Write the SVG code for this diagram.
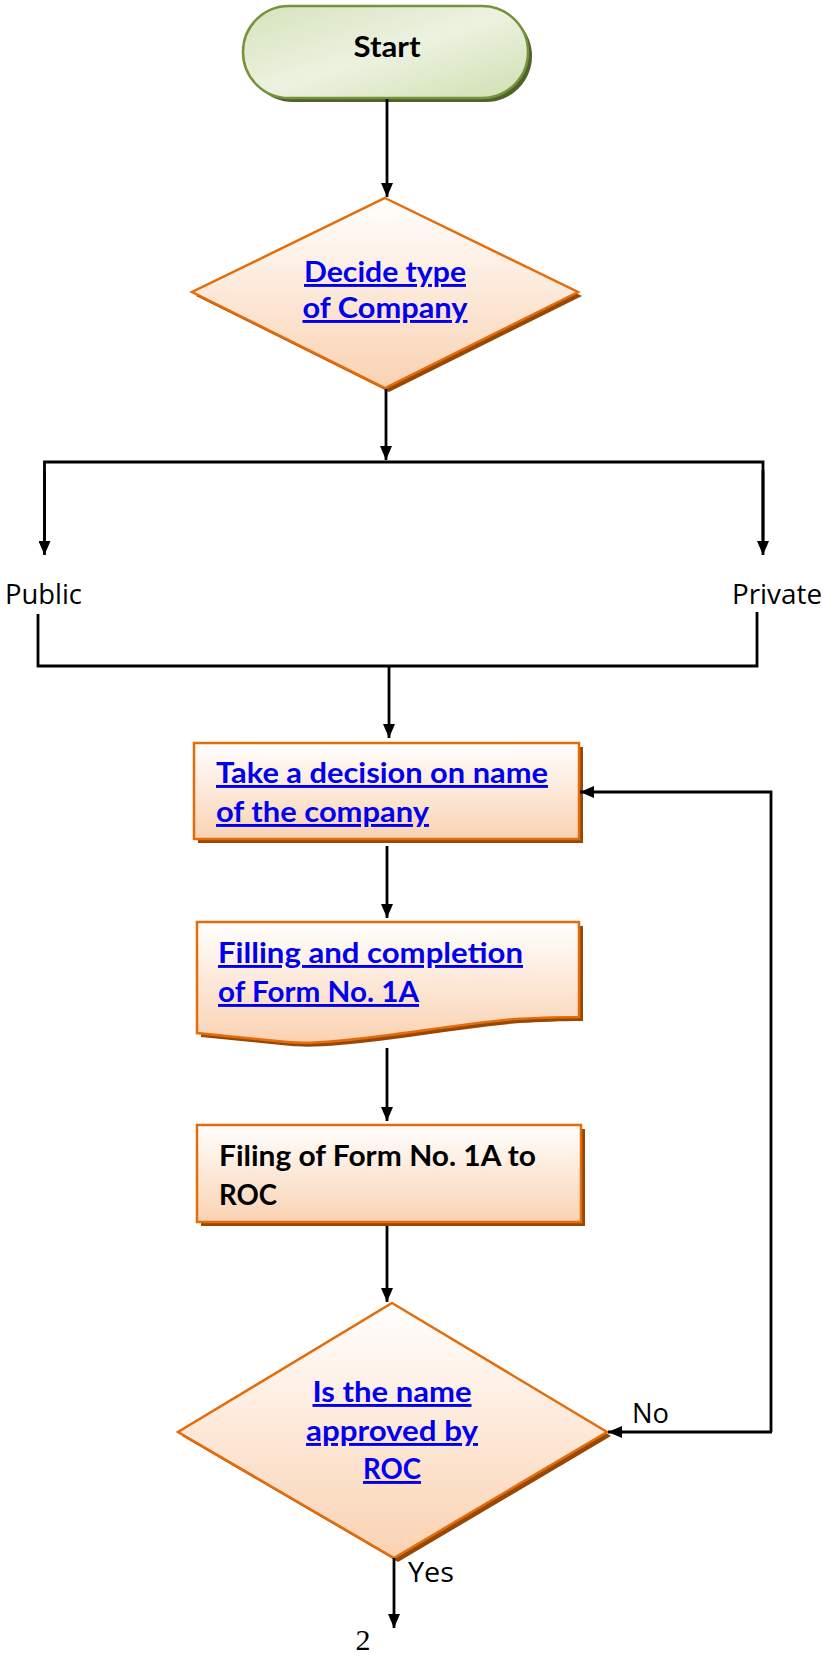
<svg xmlns="http://www.w3.org/2000/svg" width="823" height="1657" viewBox="0 0 823 1657">
<defs>
<linearGradient id="og" x1="0" y1="0" x2="0" y2="1">
<stop offset="0" stop-color="#FFFFFF"/>
<stop offset="1" stop-color="#FAD2B2"/>
</linearGradient>
<linearGradient id="gg" x1="0" y1="0" x2="1" y2="1">
<stop offset="0" stop-color="#D6E3BC"/>
<stop offset="0.5" stop-color="#ECF2E0"/>
<stop offset="1" stop-color="#D0DFB2"/>
</linearGradient>
<marker id="ah" viewBox="0 0 14 12" refX="14" refY="6" markerWidth="14" markerHeight="12" markerUnits="userSpaceOnUse" orient="auto">
<path d="M0,0 L14,6 L0,12 Z" fill="#000"/>
</marker>
<style>
.sh{fill:#974806;stroke:none}
.box{fill:url(#og);stroke:#E46C0A;stroke-width:2.5}
.lnk{font-family:Lato,"Liberation Sans",sans-serif;font-weight:bold;font-size:29px;fill:#0000EE;text-decoration:underline}
.blk{font-family:Lato,"Liberation Sans",sans-serif;font-weight:bold;font-size:29px;fill:#000}
.lbl{font-family:"Open Sans","Liberation Sans",sans-serif;font-size:28px;fill:#000}
.con{fill:none;stroke:#000;stroke-width:2.8}
</style>
</defs>

<g id="start">
<rect x="247" y="10" width="285" height="92" rx="46" fill="#4F6228"/>
<rect x="243" y="6" width="285" height="92" rx="46" fill="url(#gg)" stroke="#76923C" stroke-width="2.5"/>
<text x="387" y="57" text-anchor="middle" class="blk" font-size="27" textLength="67" lengthAdjust="spacingAndGlyphs">Start</text>
</g>

<g id="decide-type">
<polygon class="sh" points="389,202 582,296 389,392 196,296"/>
<polygon class="box" points="385,198 578,292 385,388 192,292"/>
<text x="385" y="282" text-anchor="middle" class="lnk" textLength="162" lengthAdjust="spacingAndGlyphs">Decide type</text>
<text x="385" y="318" text-anchor="middle" class="lnk" textLength="165" lengthAdjust="spacingAndGlyphs">of Company</text>
</g>

<g id="take-decision">
<rect class="sh" x="198" y="747" width="385" height="96"/>
<rect class="box" x="194" y="743" width="385" height="96"/>
<text x="216" y="783" class="lnk" textLength="332" lengthAdjust="spacingAndGlyphs">Take a decision on name</text>
<text x="216" y="822" class="lnk" textLength="213" lengthAdjust="spacingAndGlyphs">of the company</text>
</g>

<g id="filling-form">
<path class="sh" d="M201,926 L583,926 L583,1021 C560,1021 540,1022 520,1023 C460,1028 400,1040 340,1045 C320,1047 300,1047 291,1046 L201,1037 Z"/>
<path class="box" d="M197,922 L579,922 L579,1017 C556,1017 536,1018 516,1019 C456,1024 396,1036 336,1041 C316,1043 296,1043 287,1042 L197,1033 Z"/>
<text x="218" y="963" class="lnk" textLength="305" lengthAdjust="spacingAndGlyphs">Filling and completion</text>
<text x="218" y="1002" class="lnk" textLength="201" lengthAdjust="spacingAndGlyphs">of Form No. 1A</text>
</g>

<g id="filing-roc">
<rect class="sh" x="201" y="1129" width="384" height="97"/>
<rect class="box" x="197" y="1125" width="384" height="97"/>
<text x="219" y="1166" class="blk" textLength="317" lengthAdjust="spacingAndGlyphs">Filing of Form No. 1A to</text>
<text x="219" y="1205" class="blk" textLength="58" lengthAdjust="spacingAndGlyphs">ROC</text>
</g>

<g id="name-approved">
<polygon class="sh" points="396,1307 611,1436 398,1562 182,1436"/>
<polygon class="box" points="392,1303 607,1432 394,1558 178,1432"/>
<text x="392" y="1402" text-anchor="middle" class="lnk" textLength="159" lengthAdjust="spacingAndGlyphs">Is the name</text>
<text x="392" y="1441" text-anchor="middle" class="lnk" textLength="172" lengthAdjust="spacingAndGlyphs">approved by</text>
<text x="392" y="1479" text-anchor="middle" class="lnk" textLength="58" lengthAdjust="spacingAndGlyphs">ROC</text>
</g>

<g id="labels">
<text x="5" y="604" class="lbl" textLength="77" lengthAdjust="spacingAndGlyphs">Public</text>
<text x="732" y="604" class="lbl" textLength="90" lengthAdjust="spacingAndGlyphs">Private</text>
<text x="632" y="1423" class="lbl" textLength="37" lengthAdjust="spacingAndGlyphs">No</text>
<text x="408" y="1582" class="lbl" textLength="46" lengthAdjust="spacingAndGlyphs">Yes</text>
<text x="363" y="1650" text-anchor="middle" font-family="'Liberation Serif',serif" font-size="30" fill="#000">2</text>
</g>

<g id="connectors">
<line class="con" x1="387" y1="99" x2="387" y2="197" marker-end="url(#ah)"/>
<line class="con" x1="386" y1="389" x2="386" y2="460" marker-end="url(#ah)"/>
<polyline class="con" points="44.5,540 44.5,462 763,462 763,540"/>
<line class="con" x1="44.5" y1="470" x2="44.5" y2="555" marker-end="url(#ah)"/>
<line class="con" x1="763" y1="470" x2="763" y2="555" marker-end="url(#ah)"/>
<polyline class="con" points="38,614 38,666 757,666 757,612"/>
<line class="con" x1="389" y1="666" x2="389" y2="738" marker-end="url(#ah)"/>
<line class="con" x1="387" y1="846" x2="387" y2="918" marker-end="url(#ah)"/>
<line class="con" x1="387" y1="1048" x2="387" y2="1121" marker-end="url(#ah)"/>
<line class="con" x1="387" y1="1226" x2="387" y2="1302" marker-end="url(#ah)"/>
<polyline class="con" points="771,1432 771,792 580,792" marker-end="url(#ah)"/>
<line class="con" x1="772" y1="1432" x2="608" y2="1432" marker-end="url(#ah)"/>
<line class="con" x1="394" y1="1558" x2="394" y2="1628" marker-end="url(#ah)"/>
</g>
</svg>
